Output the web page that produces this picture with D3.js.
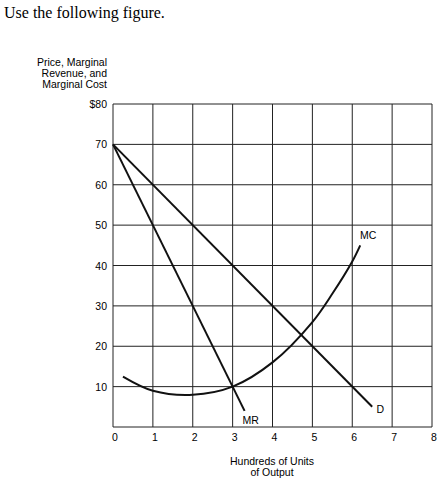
<!DOCTYPE html><html><head><script src="https://cdn.jsdelivr.net/npm/d3@7"></script>
<style>body{margin:0;background:#fff}</style></head><body><svg width="437" height="491"></svg>
<script>
const xTicks=[0,1,2,3,4,5,6,7,8];
const yTicks=[0,10,20,30,40,50,60,70,80];
const yTickLabels=["","10","20","30","40","50","60","70","$80"];
const demandQ=[0,6.5], demandP=[70,5];
const mrQ=[0,3.3], mrP=[70,4];
const mcQ=[0.25,1,2,3,4,5,5.5,6,6.2];
const mcP=[12.5,9,8,10,16,26,33,41,45];
const svg=d3.select("svg");
const x=d3.scaleLinear().domain([0,8]).range([113,432]);
const y=d3.scaleLinear().domain([0,80]).range([427,104]);
const g=svg.append("g");
xTicks.forEach(t=>g.append("line").attr("x1",x(t)).attr("x2",x(t)).attr("y1",y(0)).attr("y2",y(80)).attr("stroke","#222").attr("stroke-width",1));
yTicks.forEach(t=>g.append("line").attr("x1",x(0)).attr("x2",x(8)).attr("y1",y(t)).attr("y2",y(t)).attr("stroke","#222").attr("stroke-width",1));
const f="Liberation Sans, Arial, sans-serif";
xTicks.forEach(t=>svg.append("text").attr("x",x(t)+2).attr("y",441).attr("text-anchor","middle").attr("font-family",f).attr("font-size",10.5).text(t));
yTicks.forEach((t,i)=>svg.append("text").attr("x",107).attr("y",y(t)+4).attr("text-anchor","end").attr("font-family",f).attr("font-size",10.5).text(yTickLabels[i]));
const line=d3.line().x(d=>x(d[0])).y(d=>y(d[1]));
svg.append("path").attr("d",line(demandQ.map((q,i)=>[q,demandP[i]]))).attr("fill","none").attr("stroke","#111").attr("stroke-width",2);
svg.append("path").attr("d",line(mrQ.map((q,i)=>[q,mrP[i]]))).attr("fill","none").attr("stroke","#111").attr("stroke-width",2);
svg.append("path").attr("d",line.curve(d3.curveCatmullRom)(mcQ.map((q,i)=>[q,mcP[i]]))).attr("fill","none").attr("stroke","#111").attr("stroke-width",2);
const lab=(t,q,p)=>svg.append("text").attr("x",x(q)).attr("y",y(p)).attr("text-anchor","middle").attr("font-family",f).attr("font-size",10.5).text(t);
lab("D",6.55,3.5).attr("dx",6);lab("MR",3.45,0.8);lab("MC",6.4,46.5);
svg.append("text").attr("x",4).attr("y",18).attr("font-family","Liberation Serif, Times New Roman, serif").attr("font-size",16).text("Use the following figure.");
["Price, Marginal","Revenue, and","Marginal Cost"].forEach((s,i)=>svg.append("text").attr("x",107).attr("y",66+i*11).attr("text-anchor","end").attr("font-family",f).attr("font-size",10.5).text(s));
["Hundreds of Units","of Output"].forEach((s,i)=>svg.append("text").attr("x",272).attr("y",465+i*11).attr("text-anchor","middle").attr("font-family",f).attr("font-size",10.5).text(s));
</script></body></html>
